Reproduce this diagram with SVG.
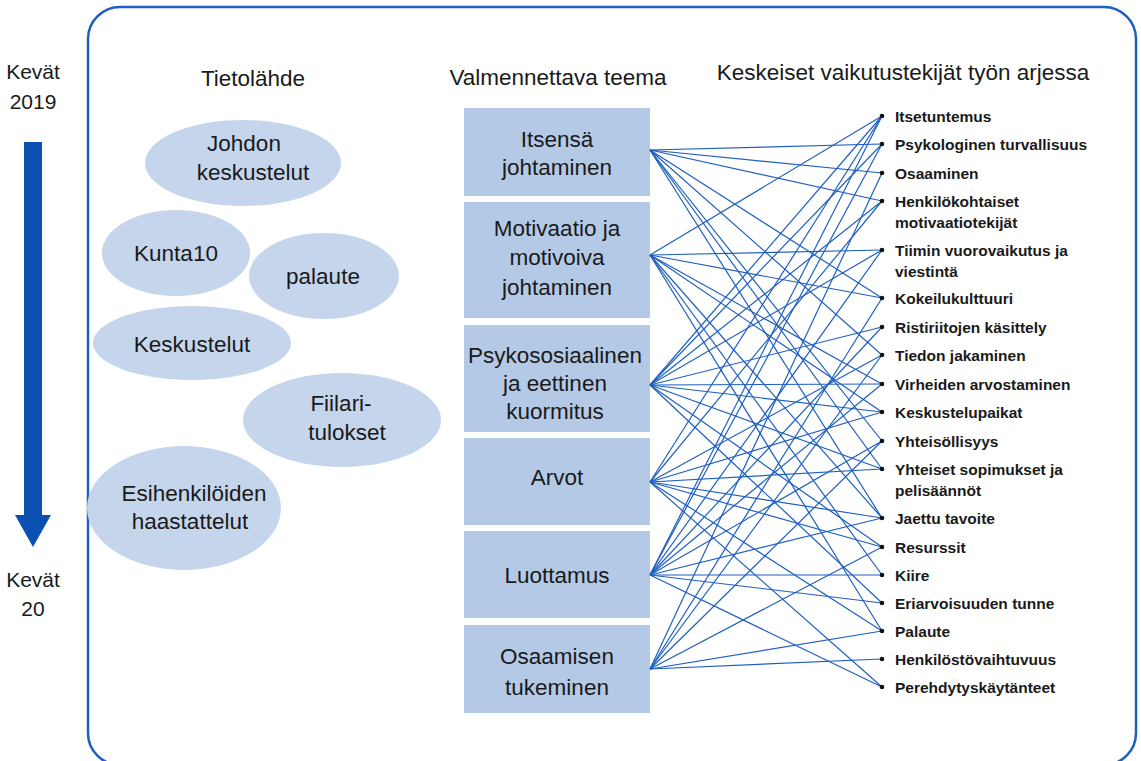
<svg xmlns="http://www.w3.org/2000/svg" width="1141" height="761" viewBox="0 0 1141 761">
  <style>
    .t { font-family: "Liberation Sans", Arial, sans-serif; fill: #1a1a1a; }
    .hd { font-size: 22.5px; text-anchor: middle; }
    .src { fill: #c5d5ec; }
    .src-t { font-size: 22.5px; text-anchor: middle; }
    .box { fill: #b4c9e6; }
    .box-t { font-size: 22.5px; text-anchor: middle; }
    .lbl { font-size: 15.5px; font-weight: bold; }
    .dot { fill: #111; }
    .tm { font-size: 21px; text-anchor: middle; }
    #connectors line { stroke: #1f5fbf; stroke-width: 1.2; }
  </style>

  <!-- frame -->
  <rect x="88" y="7" width="1048" height="758" rx="32" fill="none" stroke="#1f5fbf" stroke-width="2.5"/>

  <!-- timeline -->
  <g id="timeline">
    <text class="t tm" x="33" y="79">Kevät</text>
    <text class="t tm" x="33" y="109">2019</text>
    <path d="M24 142 H42 V515 H51 L33 547 L15 515 H24 Z" fill="#0a50b0"/>
    <text class="t tm" x="33" y="587">Kevät</text>
    <text class="t tm" x="33" y="616">20</text>
  </g>

  <!-- column headings -->
  <text class="t hd" x="253" y="86">Tietolähde</text>
  <text class="t hd" x="558" y="85">Valmennettava teema</text>
  <text class="t hd" x="903" y="80">Keskeiset vaikutustekijät työn arjessa</text>

  <!-- information sources -->
  <g id="src-johdon">
    <ellipse class="src" cx="243" cy="163" rx="98" ry="43"/>
    <text class="t src-t" x="244" y="151">Johdon</text>
    <text class="t src-t" x="253" y="180">keskustelut</text>
  </g>
  <g id="src-kunta10">
    <ellipse class="src" cx="176" cy="253" rx="74" ry="43"/>
    <text class="t src-t" x="176" y="261">Kunta10</text>
  </g>
  <g id="src-palaute">
    <ellipse class="src" cx="324" cy="276" rx="75" ry="43"/>
    <text class="t src-t" x="323" y="284">palaute</text>
  </g>
  <g id="src-keskustelut">
    <ellipse class="src" cx="192" cy="343" rx="99" ry="37"/>
    <text class="t src-t" x="192" y="352">Keskustelut</text>
  </g>
  <g id="src-fiilari">
    <ellipse class="src" cx="342" cy="420" rx="99" ry="47"/>
    <text class="t src-t" x="341" y="411">Fiilari-</text>
    <text class="t src-t" x="347" y="440">tulokset</text>
  </g>
  <g id="src-esihenkilot">
    <ellipse class="src" cx="184" cy="508" rx="97" ry="62"/>
    <text class="t src-t" x="194" y="501">Esihenkilöiden</text>
    <text class="t src-t" x="190" y="529">haastattelut</text>
  </g>

  <!-- coaching themes -->
  <g id="theme-itsensa">
    <rect class="box" x="464" y="108" width="186" height="88"/>
    <text class="t box-t" x="557" y="147">Itsensä</text>
    <text class="t box-t" x="557" y="175">johtaminen</text>
  </g>
  <g id="theme-motivaatio">
    <rect class="box" x="464" y="202" width="186" height="116"/>
    <text class="t box-t" x="557" y="236">Motivaatio ja</text>
    <text class="t box-t" x="557" y="265">motivoiva</text>
    <text class="t box-t" x="557" y="295">johtaminen</text>
  </g>
  <g id="theme-psykososiaalinen">
    <rect class="box" x="464" y="325" width="186" height="107"/>
    <text class="t box-t" x="555" y="363">Psykososiaalinen</text>
    <text class="t box-t" x="555" y="391">ja eettinen</text>
    <text class="t box-t" x="555" y="419">kuormitus</text>
  </g>
  <g id="theme-arvot">
    <rect class="box" x="464" y="438" width="186" height="87"/>
    <text class="t box-t" x="557" y="485">Arvot</text>
  </g>
  <g id="theme-luottamus">
    <rect class="box" x="464" y="531" width="186" height="87"/>
    <text class="t box-t" x="557" y="583">Luottamus</text>
  </g>
  <g id="theme-osaamisen">
    <rect class="box" x="464" y="625" width="186" height="88"/>
    <text class="t box-t" x="557" y="664">Osaamisen</text>
    <text class="t box-t" x="557" y="695">tukeminen</text>
  </g>

  <!-- theme-to-factor links -->
  <g id="connectors">
    <!-- Itsensä johtaminen -->
    <line x1="650" y1="150" x2="882" y2="144"/>
    <line x1="650" y1="150" x2="882" y2="173"/>
    <line x1="650" y1="150" x2="882" y2="201"/>
    <line x1="650" y1="150" x2="882" y2="298"/>
    <line x1="650" y1="150" x2="882" y2="355"/>
    <line x1="650" y1="150" x2="882" y2="441"/>
    <line x1="650" y1="150" x2="882" y2="469"/>
    <line x1="650" y1="150" x2="882" y2="518"/>
    <!-- Motivaatio -->
    <line x1="650" y1="255" x2="882" y2="116"/>
    <line x1="650" y1="255" x2="882" y2="250"/>
    <line x1="650" y1="255" x2="882" y2="298"/>
    <line x1="650" y1="255" x2="882" y2="384"/>
    <line x1="650" y1="255" x2="882" y2="412"/>
    <line x1="650" y1="255" x2="882" y2="518"/>
    <line x1="650" y1="255" x2="882" y2="575"/>
    <line x1="650" y1="255" x2="882" y2="631"/>
    <!-- Psykososiaalinen -->
    <line x1="650" y1="385" x2="882" y2="116"/>
    <line x1="650" y1="385" x2="882" y2="144"/>
    <line x1="650" y1="385" x2="882" y2="201"/>
    <line x1="650" y1="385" x2="882" y2="250"/>
    <line x1="650" y1="385" x2="882" y2="327"/>
    <line x1="650" y1="385" x2="882" y2="384"/>
    <line x1="650" y1="385" x2="882" y2="412"/>
    <line x1="650" y1="385" x2="882" y2="469"/>
    <line x1="650" y1="385" x2="882" y2="547"/>
    <line x1="650" y1="385" x2="882" y2="603"/>
    <!-- Arvot -->
    <line x1="650" y1="482" x2="882" y2="116"/>
    <line x1="650" y1="482" x2="882" y2="201"/>
    <line x1="650" y1="482" x2="882" y2="355"/>
    <line x1="650" y1="482" x2="882" y2="412"/>
    <line x1="650" y1="482" x2="882" y2="469"/>
    <line x1="650" y1="482" x2="882" y2="518"/>
    <line x1="650" y1="482" x2="882" y2="547"/>
    <line x1="650" y1="482" x2="882" y2="631"/>
    <line x1="650" y1="482" x2="882" y2="687"/>
    <!-- Luottamus -->
    <line x1="650" y1="575" x2="882" y2="116"/>
    <line x1="650" y1="575" x2="882" y2="144"/>
    <line x1="650" y1="575" x2="882" y2="250"/>
    <line x1="650" y1="575" x2="882" y2="327"/>
    <line x1="650" y1="575" x2="882" y2="384"/>
    <line x1="650" y1="575" x2="882" y2="441"/>
    <line x1="650" y1="575" x2="882" y2="518"/>
    <line x1="650" y1="575" x2="882" y2="575"/>
    <line x1="650" y1="575" x2="882" y2="603"/>
    <line x1="650" y1="575" x2="882" y2="687"/>
    <!-- Osaamisen tukeminen -->
    <line x1="650" y1="669" x2="882" y2="173"/>
    <line x1="650" y1="669" x2="882" y2="298"/>
    <line x1="650" y1="669" x2="882" y2="355"/>
    <line x1="650" y1="669" x2="882" y2="441"/>
    <line x1="650" y1="669" x2="882" y2="547"/>
    <line x1="650" y1="669" x2="882" y2="631"/>
    <line x1="650" y1="669" x2="882" y2="659"/>
  </g>

  <!-- workplace factors -->
  <g id="factors">
    <g id="f01"><circle class="dot" cx="882" cy="116" r="2.3"/><text class="t lbl" x="895" y="121.5">Itsetuntemus</text></g>
    <g id="f02"><circle class="dot" cx="882" cy="144" r="2.3"/><text class="t lbl" x="895" y="149.5">Psykologinen turvallisuus</text></g>
    <g id="f03"><circle class="dot" cx="882" cy="173" r="2.3"/><text class="t lbl" x="895" y="178.5">Osaaminen</text></g>
    <g id="f04"><circle class="dot" cx="882" cy="201" r="2.3"/><text class="t lbl" x="895" y="206.5">Henkilökohtaiset</text><text class="t lbl" x="895" y="227.5">motivaatiotekijät</text></g>
    <g id="f05"><circle class="dot" cx="882" cy="250" r="2.3"/><text class="t lbl" x="895" y="255.5">Tiimin vuorovaikutus ja</text><text class="t lbl" x="895" y="276.5">viestintä</text></g>
    <g id="f06"><circle class="dot" cx="882" cy="298" r="2.3"/><text class="t lbl" x="895" y="303.5">Kokeilukulttuuri</text></g>
    <g id="f07"><circle class="dot" cx="882" cy="327" r="2.3"/><text class="t lbl" x="895" y="332.5">Ristiriitojen käsittely</text></g>
    <g id="f08"><circle class="dot" cx="882" cy="355" r="2.3"/><text class="t lbl" x="895" y="360.5">Tiedon jakaminen</text></g>
    <g id="f09"><circle class="dot" cx="882" cy="384" r="2.3"/><text class="t lbl" x="895" y="389.5">Virheiden arvostaminen</text></g>
    <g id="f10"><circle class="dot" cx="882" cy="412" r="2.3"/><text class="t lbl" x="895" y="417.5">Keskustelupaikat</text></g>
    <g id="f11"><circle class="dot" cx="882" cy="441" r="2.3"/><text class="t lbl" x="895" y="446.5">Yhteisöllisyys</text></g>
    <g id="f12"><circle class="dot" cx="882" cy="469" r="2.3"/><text class="t lbl" x="895" y="474.5">Yhteiset sopimukset ja</text><text class="t lbl" x="895" y="495.5">pelisäännöt</text></g>
    <g id="f13"><circle class="dot" cx="882" cy="518" r="2.3"/><text class="t lbl" x="895" y="523.5">Jaettu tavoite</text></g>
    <g id="f14"><circle class="dot" cx="882" cy="547" r="2.3"/><text class="t lbl" x="895" y="552.5">Resurssit</text></g>
    <g id="f15"><circle class="dot" cx="882" cy="575" r="2.3"/><text class="t lbl" x="895" y="580.5">Kiire</text></g>
    <g id="f16"><circle class="dot" cx="882" cy="603" r="2.3"/><text class="t lbl" x="895" y="608.5">Eriarvoisuuden tunne</text></g>
    <g id="f17"><circle class="dot" cx="882" cy="631" r="2.3"/><text class="t lbl" x="895" y="636.5">Palaute</text></g>
    <g id="f18"><circle class="dot" cx="882" cy="659" r="2.3"/><text class="t lbl" x="895" y="664.5">Henkilöstövaihtuvuus</text></g>
    <g id="f19"><circle class="dot" cx="882" cy="687" r="2.3"/><text class="t lbl" x="895" y="692.5">Perehdytyskäytänteet</text></g>
  </g>
</svg>
